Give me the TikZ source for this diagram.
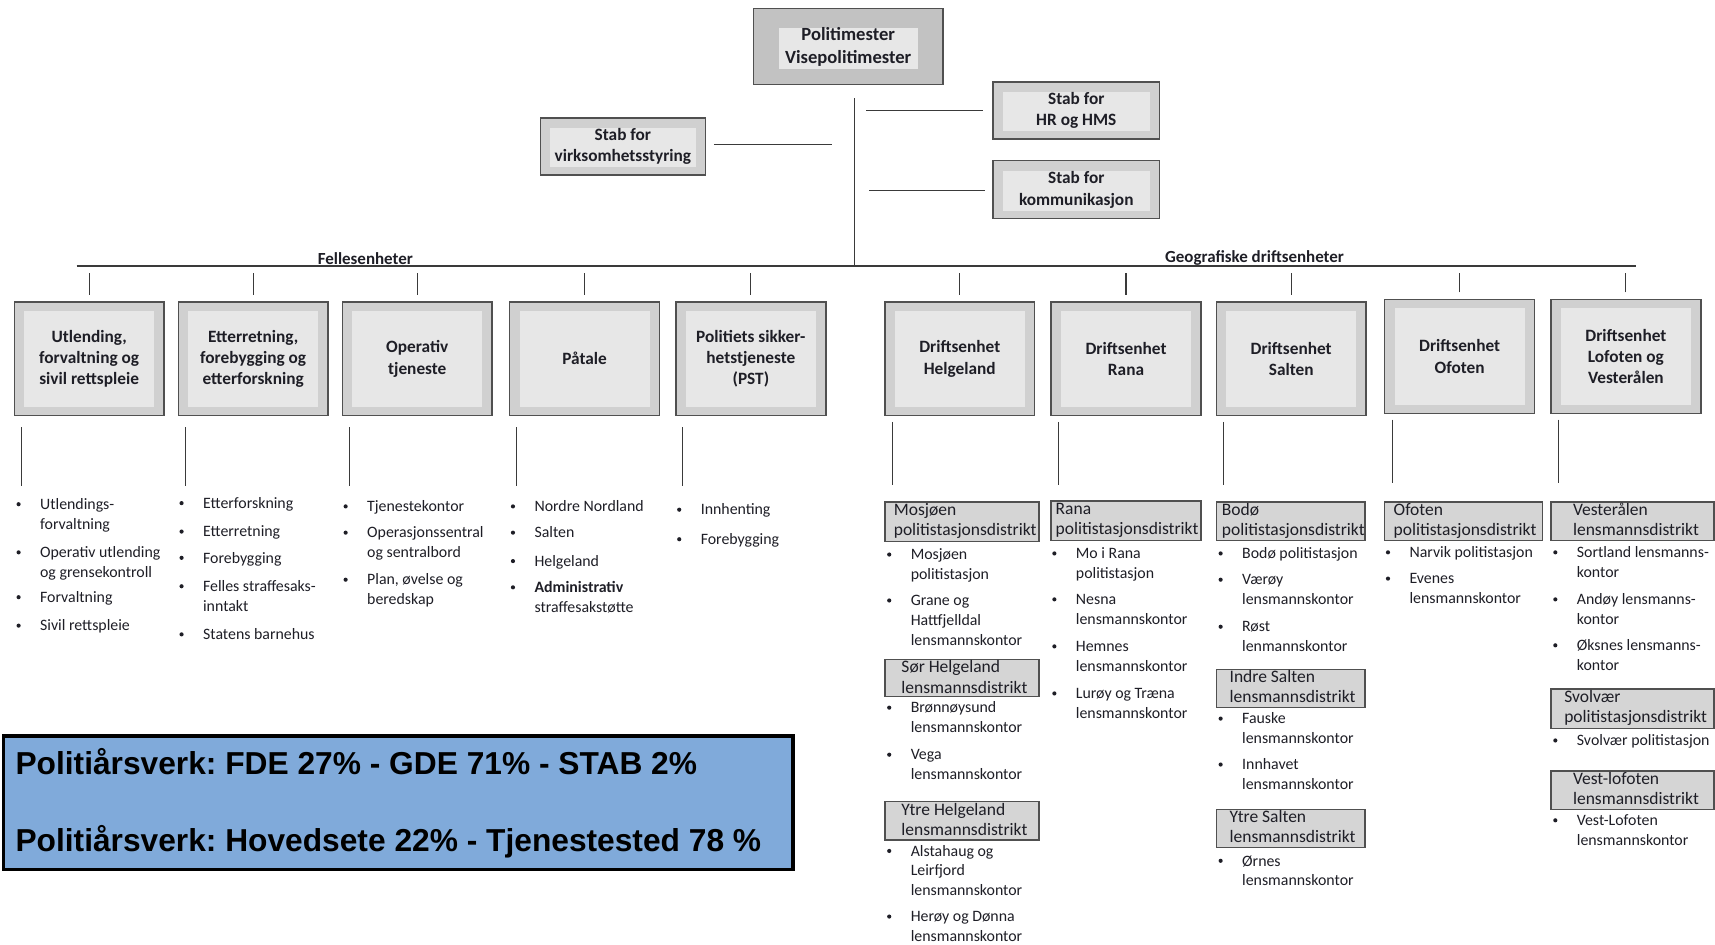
\documentclass[tikz,border=0pt]{standalone}
\usepackage{fontspec}
\setmainfont{Carlito}
\newfontfamily\arialfont{Liberation Sans}
\usetikzlibrary{calc}
\frenchspacing
\definecolor{outc}{HTML}{D0D0D0}
\definecolor{topc}{HTML}{C2C2C2}
\definecolor{innc}{HTML}{E7E7E7}
\definecolor{bordc}{HTML}{505050}
\definecolor{distc}{HTML}{D5D5D5}
\definecolor{bluec}{HTML}{80AADA}
\definecolor{txtc}{HTML}{1E1E26}
\definecolor{linec}{HTML}{3A3A3A}
\newcommand\boxfont{\fontsize{15.8}{19.5}\selectfont\bfseries}
\newcommand\lstfont{\fontsize{14.5}{18}\selectfont}
\newcommand\dfont{\fontsize{16}{18.5}\selectfont}
\tikzset{
  insx/.store in=\insx, insy/.store in=\insy, insyb/.store in=\insyb,
  insx=9pt, insy=8pt, insyb=8pt,
  ubox/.style={draw=bordc, line width=1.3pt, fill=outc, inner sep=0pt,
    font=\boxfont, align=center, text=txtc,
    path picture={\fill[innc] ([shift={(\insx,-\insy)}]path picture bounding box.north west)
      rectangle ([shift={(-\insx,\insyb)}]path picture bounding box.south east);}},
  unit/.style={ubox, minimum width=137pt, minimum height=104pt},
  lst/.style={anchor=north west, inner sep=0pt, align=left, font=\lstfont, text=txtc},
  dtxt/.style={anchor=north west, inner sep=0pt, align=left, font=\dfont, text=txtc},
  ln/.style={draw=linec, line width=1pt},
  hl/.style={draw=linec, line width=1.6pt},
  grp/.style={font=\fontsize{15.5}{17}\selectfont\bfseries, text=txtc},
  sumtxt/.style={anchor=base west, inner sep=0pt, font=\arialfont\bfseries\fontsize{29}{33}\selectfont},
}
% bullet item: name, bullet x, first line y, text
\newcommand\bul[4]{\fill[txtc] (#2,#3) circle (1.9pt);
  \node[lst] (#1) at (#2+19.5,#3-8) {\strut #4};}
% district box: name, x1, y1, x2, y2, indent, text
\newcommand\dist[7]{\path (#2,#3) coordinate (#1-a) (#4,#5) coordinate (#1-b);
  \draw[draw=bordc, line width=1.2pt, fill=distc] (#1-a) rectangle (#1-b);
  \node[dtxt] (#1) at (#2+#6,#3-1) {\strut #7};}
\begin{document}
\begin{tikzpicture}[x=1pt,y=-1pt]
\useasboundingbox (0,0) rectangle (1568,864);

% top
\node[ubox, fill=topc, font=\fontsize{17}{21}\selectfont\bfseries, minimum width=173pt, minimum height=69pt,
  insx=23pt, insy=18pt, insyb=14pt] (pm) at (775.5,42.5) {Politimester\\Visepolitimester};
\node[ubox, minimum width=151pt, minimum height=52pt, insy=9pt, insyb=7pt] (sv) at (569.5,134) {Stab for\\virksomhetsstyring};
\node[ubox, minimum width=152pt, minimum height=52pt, insy=9pt, insyb=7pt] (hr) at (984,101) {Stab for\\HR og HMS};
\node[ubox, minimum width=152pt, minimum height=53pt, insy=9pt, insyb=7pt] (km) at (984,173.5) {Stab for\\kommunikasjon};

\coordinate (tTop) at (781,90);
\coordinate (tBot) at (781,243);
\coordinate (hL) at (70,243);
\coordinate (hR) at (1496,243);
\draw[ln] (tTop) -- (tBot);
\draw[hl] (hL) -- (hR);
\draw[ln] ([xshift=7pt,yshift=2pt]sv.east) -- ++(108,0);
\draw[ln] ([xshift=-9pt]hr.west) -- ++(-107,0);
\draw[ln] ([xshift=-7pt,yshift=-0.5pt]km.west) -- ++(-106,0);

\node[grp] (fe) at (334,236) {Fellesenheter};
\node[grp] (ge) at (1147,236) {Geografiske driftsenheter};

% units
\node[unit] (u1) at (81.5,328) {Utlending,\\forvaltning og\\sivil rettspleie};
\node[unit] (u2) at (231.5,328) {Etterretning,\\forebygging og\\etterforskning};
\node[unit] (u3) at (381.5,328) {Operativ\\tjeneste};
\node[unit] (u4) at (534.5,328) {Påtale};
\node[unit] (u5) at (686.5,328) {Politiets sikker-\\hetstjeneste\\(PST)};
\node[unit] (g1) at (877.5,328) {Driftsenhet\\Helgeland};
\node[unit] (g2) at (1029.5,328) {Driftsenhet\\Rana};
\node[unit] (g3) at (1180.5,328) {Driftsenhet\\Salten};
\node[unit] (g4) at (1334.5,326) {Driftsenhet\\Ofoten};
\node[unit] (g5) at (1486.5,326) {Driftsenhet\\Lofoten og\\Vesterålen};

\foreach \n in {u1,u2,u3,u4,u5,g1,g2,g3}{
  \draw[ln] ([yshift=6pt]\n.north) -- ([yshift=26pt]\n.north);}
\foreach \n in {g4,g5}{
  \draw[ln] ([yshift=6pt]\n.north) -- ([yshift=24pt]\n.north);}
\foreach \n in {u1,u2,u3,u4,u5}{
  \draw[ln] ([xshift=7pt,yshift=-10pt]\n.south west) -- ([xshift=7pt,yshift=-64pt]\n.south west);}
\foreach \n in {g1,g2,g3,g4,g5}{
  \draw[ln] ([xshift=7.5pt,yshift=-5pt]\n.south west) -- ([xshift=7.5pt,yshift=-63pt]\n.south west);}

% Fellesenheter lists
\bul{a1}{17}{461}{Utlendings-\\forvaltning}
\bul{a2}{17}{505}{Operativ utlending\\og grensekontroll}
\bul{a3}{17}{546}{Forvaltning}
\bul{a4}{17}{572}{Sivil rettspleie}

\bul{b1}{166}{460}{Etterforskning}
\bul{b2}{166}{486}{Etterretning}
\bul{b3}{166}{510}{Forebygging}
\bul{b4}{166}{536}{Felles straffesaks-\\inntakt}
\bul{b5}{166}{580}{Statens barnehus}

\bul{c1}{316}{463}{Tjenestekontor}
\bul{c2}{316}{487}{Operasjonssentral\\og sentralbord}
\bul{c3}{316}{530}{Plan, øvelse og\\beredskap}

\bul{d1}{469}{463}{Nordre Nordland}
\bul{d2}{469}{487}{Salten}
\bul{d3}{469}{513}{Helgeland}
\bul{d4}{469}{537}{{\bfseries Administrativ}\\straffesakstøtte}

\bul{e1}{621}{466}{Innhenting}
\bul{e2}{621}{493}{Forebygging}

% Helgeland
\dist{dh1}{809}{459}{950}{495}{8}{Mosjøen\\politistasjonsdistrikt}
\bul{h1}{813}{507}{Mosjøen\\politistasjon}
\bul{h2}{813}{549}{Grane og\\Hattfjelldal\\lensmannskontor}
\dist{dh2}{809}{603}{950}{637}{15}{Sør Helgeland\\lensmannsdistrikt}
\bul{h3}{813}{647}{Brønnøysund\\lensmannskontor}
\bul{h4}{813}{690}{Vega\\lensmannskontor}
\dist{dh3}{809}{733}{950}{768}{15}{Ytre Helgeland\\lensmannsdistrikt}
\bul{h5}{813}{778}{Alstahaug og\\Leirfjord\\lensmannskontor}
\bul{h6}{813}{838}{Herøy og Dønna\\lensmannskontor}

% Rana
\dist{dr1}{961}{458}{1098}{494}{4}{Rana\\politistasjonsdistrikt}
\bul{r1}{964}{506}{Mo i Rana\\politistasjon}
\bul{r2}{964}{548}{Nesna\\lensmannskontor}
\bul{r3}{964}{591}{Hemnes\\lensmannskontor}
\bul{r4}{964}{634}{Lurøy og Træna\\lensmannskontor}

% Salten
\dist{ds1}{1112}{459}{1248}{494}{5}{Bodø\\politistasjonsdistrikt}
\bul{s1}{1116}{506}{Bodø politistasjon}
\bul{s2}{1116}{530}{Værøy\\lensmannskontor}
\bul{s3}{1116}{573}{Røst\\lenmannskontor}
\dist{ds2}{1112}{612}{1248}{647}{12}{Indre Salten\\lensmannsdistrikt}
\bul{s4}{1116}{657}{Fauske\\lensmannskontor}
\bul{s5}{1116}{699}{Innhavet\\lensmannskontor}
\dist{ds3}{1112}{740}{1248}{775}{12}{Ytre Salten\\lensmannsdistrikt}
\bul{s6}{1116}{787}{Ørnes\\lensmannskontor}

% Ofoten
\dist{do1}{1266}{459}{1410}{494}{8}{Ofoten\\politistasjonsdistrikt}
\bul{o1}{1269}{505}{Narvik politistasjon}
\bul{o2}{1269}{529}{Evenes\\lensmannskontor}

% Lofoten og Vesterålen
\dist{dv1}{1418}{459}{1567}{494}{20}{Vesterålen\\lensmannsdistrikt}
\bul{v1}{1422}{505}{Sortland lensmanns-\\kontor}
\bul{v2}{1422}{548}{Andøy lensmanns-\\kontor}
\bul{v3}{1422}{590}{Øksnes lensmanns-\\kontor}
\dist{dv2}{1418}{630}{1567}{666}{12}{Svolvær\\politistasjonsdistrikt}
\bul{v4}{1422}{677}{Svolvær politistasjon}
\dist{dv3}{1418}{705}{1567}{740}{20}{Vest-lofoten\\lensmannsdistrikt}
\bul{v5}{1422}{750}{Vest-Lofoten\\lensmannskontor}

% blue summary box
\node[draw=black, line width=3pt, fill=bluec, minimum width=722pt, minimum height=122pt,
  anchor=north west, inner sep=0pt] (sum) at (1.5,671.5) {};
\node[sumtxt] (s1t) at (14,708.5) {Politiårsverk: FDE 27\% - GDE 71\% - STAB 2\%};
\node[sumtxt] (s2t) at (14,778.5) {Politiårsverk: Hovedsete 22\% - Tjenestested 78 \%};
\end{tikzpicture}
\end{document}
